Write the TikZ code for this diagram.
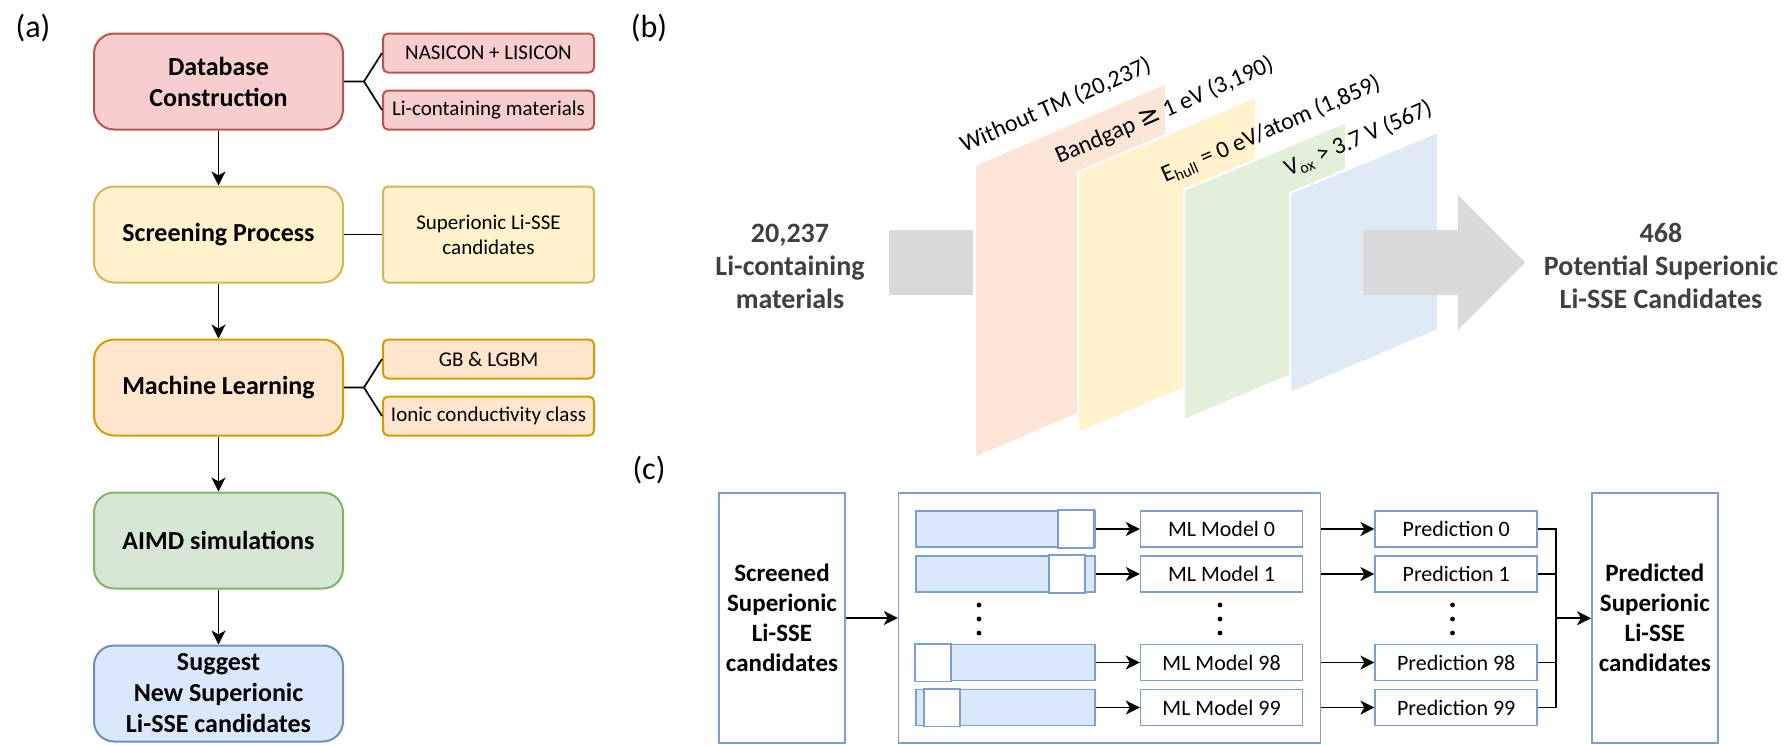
\documentclass[tikz,border=0pt]{standalone}
\usepackage{fontspec}
\setmainfont{Carlito}
\newfontfamily\geqfont{DejaVu Sans}
\usetikzlibrary{arrows.meta,positioning,calc}
\definecolor{dbfill}{HTML}{F8CECC}
\definecolor{dbline}{HTML}{B85450}
\definecolor{scrfill}{HTML}{FFF2CC}
\definecolor{scrline}{HTML}{D6B656}
\definecolor{mlfill}{HTML}{FFE6CC}
\definecolor{mlline}{HTML}{D79B00}
\definecolor{aimdfill}{HTML}{D5E8D4}
\definecolor{aimdline}{HTML}{82B366}
\definecolor{newfill}{HTML}{DAE8FC}
\definecolor{newline}{HTML}{6C8EBF}
\definecolor{pinkpanel}{HTML}{FBE5D6}
\definecolor{yellowpanel}{HTML}{FFF2CC}
\definecolor{greenpanel}{HTML}{E2F0D9}
\definecolor{bluepanel}{HTML}{DEEBF7}
\definecolor{flowgray}{HTML}{D9D9D9}
\definecolor{textgray}{HTML}{404040}
\definecolor{cline}{HTML}{7B9FD4}
\definecolor{barfill}{HTML}{DAE8FC}

\begin{document}
\begin{tikzpicture}[
  x=0.5pt, y=-0.5pt,
  font=\fontsize{10.5}{12.5}\selectfont,
  node distance=27.5pt and 19pt,
  arrow/.style={-{Stealth[length=7pt,width=7pt,inset=2pt]}, line width=0.85pt},
  link/.style={line width=0.85pt},
  stage/.style={rounded corners=10pt, line width=1pt, align=center, minimum width=124.5pt,
    minimum height=48pt, inner sep=1pt, font=\fontsize{13}{15.5}\selectfont\bfseries},
  tag/.style={rounded corners=2.5pt, line width=1pt, align=center, minimum width=105.5pt,
    minimum height=19.5pt, inner sep=1pt},
  panellabel/.style={font=\fontsize{16}{19}\selectfont},
  countlabel/.style={font=\fontsize{14}{16.5}\selectfont\bfseries, text=textgray, align=center},
  filterlabel/.style={rotate=23.5, anchor=base west, inner sep=0pt, font=\fontsize{12}{14}\selectfont},
  panel/.style={draw=white, line width=1pt},
  tall/.style={draw=cline, fill=white, line width=0.8pt, minimum width=63pt, minimum height=125pt,
    align=center, font=\fontsize{12.5}{15}\selectfont\bfseries},
  bar/.style={draw=cline, fill=barfill, line width=0.8pt, minimum width=89.5pt, minimum height=18pt, inner sep=0pt},
  mlbox/.style={draw=cline, fill=white, line width=0.8pt, minimum width=81pt, minimum height=18pt,
    inner sep=0pt, font=\fontsize{11}{13}\selectfont}
]
\useasboundingbox (0,0) rectangle (1785,745);

% (a)
\node[panellabel] (labela) at (33,28) {(a)};
\node[stage, fill=dbfill, draw=dbline] (db) at (218.5,81.5) {Database\\Construction};
\node[stage, fill=scrfill, draw=scrline, below=of db] (screen) {Screening Process};
\node[stage, fill=mlfill, draw=mlline, below=of screen] (ml) {Machine Learning};
\node[stage, fill=aimdfill, draw=aimdline, below=of ml] (aimd) {AIMD simulations};
\node[stage, fill=newfill, draw=newline, below=of aimd] (suggest) {Suggest\\New Superionic\\Li-SSE candidates};

\node[tag, fill=dbfill, draw=dbline, right=19pt of db.north east, anchor=north west] (nasicon) {NASICON + LISICON};
\node[tag, fill=dbfill, draw=dbline, right=19pt of db.south east, anchor=south west] (licont) {Li-containing materials};
\node[tag, fill=scrfill, draw=scrline, minimum height=48pt, right=of screen] (sse) {Superionic Li-SSE\\candidates};
\node[tag, fill=mlfill, draw=mlline, right=19pt of ml.north east, anchor=north west] (gblgbm) {GB \& LGBM};
\node[tag, fill=mlfill, draw=mlline, right=19pt of ml.south east, anchor=south west] (ionic) {Ionic conductivity class};

\coordinate[right=10pt of db.east] (dbfork);
\coordinate[right=10pt of ml.east] (mlfork);
\draw[link] (db) -- (dbfork) -- (nasicon.west);
\draw[link] (dbfork) -- (licont.west);
\draw[link] (ml) -- (mlfork) -- (gblgbm.west);
\draw[link] (mlfork) -- (ionic.west);
\draw[link] (screen) -- (sse);

\draw[arrow] (db) -- (screen);
\draw[arrow] (screen) -- (ml);
\draw[arrow] (ml) -- (aimd);
\draw[arrow] (aimd) -- (suggest);

% (b)
\node[panellabel] (labelb) at (649,28) {(b)};
\node[countlabel] (before) at (790,266) {20,237\\Li-containing\\materials};
\node[countlabel] (after) at (1661,266) {468\\Potential Superionic\\Li-SSE Candidates};

\fill[flowgray] (889,230) rectangle (973,295);
\filldraw[panel, fill=pinkpanel] (975,165) -- (1166,83) -- (1166,376) -- (975,458) -- cycle;
\filldraw[panel, fill=yellowpanel] (1078,172) -- (1256,97) -- (1256,358) -- (1078,433) -- cycle;
\filldraw[panel, fill=greenpanel] (1184,190) -- (1346,122) -- (1346,352) -- (1184,420) -- cycle;
\filldraw[panel, fill=bluepanel] (1290,193) -- (1438,132) -- (1438,330) -- (1290,393) -- cycle;
\fill[flowgray] (1363,230) -- (1458,230) -- (1458,195) -- (1525,262.5) -- (1458,330) -- (1458,295) -- (1363,295) -- cycle;

\node[filterlabel] (notm) at (964,153) {Without TM (20,237)};
\node[filterlabel] (bandgap) at (1059,164) {Bandgap {\geqfont\fontsize{13}{14}\selectfont ≥} 1 eV (3,190)};
\node[filterlabel] (ehull) at (1165,183) {E\textsubscript{hull} = 0 eV/atom (1,859)};
\node[filterlabel] (vox) at (1288,177) {V\textsubscript{ox} > 3.7 V (567)};

% (c)
\node[panellabel] (labelc) at (649,470) {(c)};
\node[tall] (screened) at (782,618) {Screened\\Superionic\\Li-SSE\\candidates};
\node[tall, minimum width=211pt, right=26pt of screened] (ensemble) {};

\foreach \r/\y/\w in {0/529/143, 1/574/134, 98/662.5/0, 99/707.5/9} {
  \node[bar] (bar\r) at (1005.5,\y) {};
  \draw[draw=cline, fill=white, line width=0.8pt] ([xshift=\w*0.5pt]bar\r.north west) rectangle ([xshift=\w*0.5pt+18pt]bar\r.south west);
  \node[mlbox, right=22pt of bar\r] (model\r) {ML Model \r};
  \node[mlbox, right=35.5pt of model\r] (pred\r) {Prediction \r};
  \draw[arrow] (bar\r) -- (model\r);
  \draw[arrow] (model\r.east -| ensemble.east) -- (pred\r);
}
\foreach \x in {979,1220,1452.5}
  \foreach \d in {605,619,633}
    \fill (\x,\d) circle (1.2pt);

\coordinate (merge) at ($(pred0.east)!0.5!(pred99.east)+(9pt,0)$);
\foreach \r in {0,1,98,99}
  \draw[link] (pred\r) -| (merge);
\node[tall, right=17.5pt of merge] (predicted) {Predicted\\Superionic\\Li-SSE\\candidates};

\draw[arrow] (screened) -- (ensemble);
\draw[arrow] (merge) -- (predicted);

\end{tikzpicture}
\end{document}
